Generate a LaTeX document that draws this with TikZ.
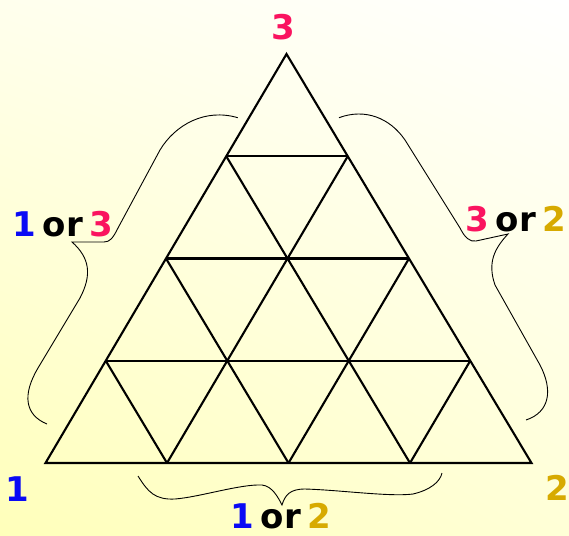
\documentclass[tikz,border=0pt]{standalone}
\usepackage{fontspec}
\setmainfont{DejaVu Sans}
\usetikzlibrary{calc,shadings}
\definecolor{vblue}{RGB}{10,10,245}
\definecolor{vpink}{RGB}{250,20,95}
\definecolor{vgold}{RGB}{215,170,0}
\newcommand{\orsep}{\hspace{0.2em}}
\tikzset{
  grid/.style={line width=2.1pt,line join=miter},
  brace/.style={line width=0.9pt},
  lbl/.style={font=\fontsize{34}{38}\selectfont\bfseries,inner sep=0pt}
}
\begin{document}
\begin{tikzpicture}[x=1pt,y=-1pt]
        \useasboundingbox (0,0) rectangle (569,535);
        \shade [upper left=yellow!7,upper right=white,lower left=yellow!27,lower right=yellow!16] (0,0) rectangle (569,535);
        % corners of the big triangle
        \coordinate (A) at (45.5,463);
        \coordinate (B) at (531.5,463);
        \coordinate (C) at (286.5,54);
        \draw [grid] (A) -- (B) -- (C) -- cycle;
        \foreach \i in {1,2,3} {
            \draw [grid] ($(A)!\i/4!(C)$) -- ($(B)!\i/4!(C)$);
            \draw [grid] ($(A)!\i/4!(B)$) -- ($(C)!\i/4!(B)$);
            \draw [grid] ($(A)!\i/4!(B)$) -- ($(A)!\i/4!(C)$);
        }
        % braces
        \draw [brace] (237.7,117.7) .. controls (205,108) and (175,125) .. (160,150) -- (118,228) .. controls (113,238) and (110,242) .. (104,242) -- (72,242) .. controls (90,258) and (92,275) .. (80,298) -- (38,368) .. controls (22,395) and (25,415) .. (47,424);
        \draw [brace] (339,117.7) .. controls (365,108) and (390,118) .. (405,140) -- (460,228) .. controls (465,238) and (470,242) .. (476,241) -- (508,234) .. controls (495,248) and (487,262) .. (495,285) -- (540,365) .. controls (553,390) and (550,412) .. (526,420);
        \draw [brace] (138,476) .. controls (148,492) and (155,500) .. (175,499) .. controls (200,497) and (240,484) .. (262,485) .. controls (272,486) and (278,497) .. (282,505) .. controls (285,495) and (290,489) .. (305,489) .. controls (340,490) and (390,497) .. (413,494) .. controls (430,490) and (440,482) .. (442,473);
        % labels
        \node [lbl,text=vpink] (top) at (283,27) {3};
        \node [lbl,text=vblue] (left) at (17.5,489) {1};
        \node [lbl,text=vgold] (right) at (557,488) {2};
        \node [lbl] (side13) at (63,224) {\textcolor{vblue}{1}\orsep or\orsep\textcolor{vpink}{3}};
        \node [lbl] (side32) at (516,219) {\textcolor{vpink}{3}\orsep or\orsep\textcolor{vgold}{2}};
        \node [lbl] (side12) at (281,516) {\textcolor{vblue}{1}\orsep or\orsep\textcolor{vgold}{2}};
    \end{tikzpicture}
\end{document}
